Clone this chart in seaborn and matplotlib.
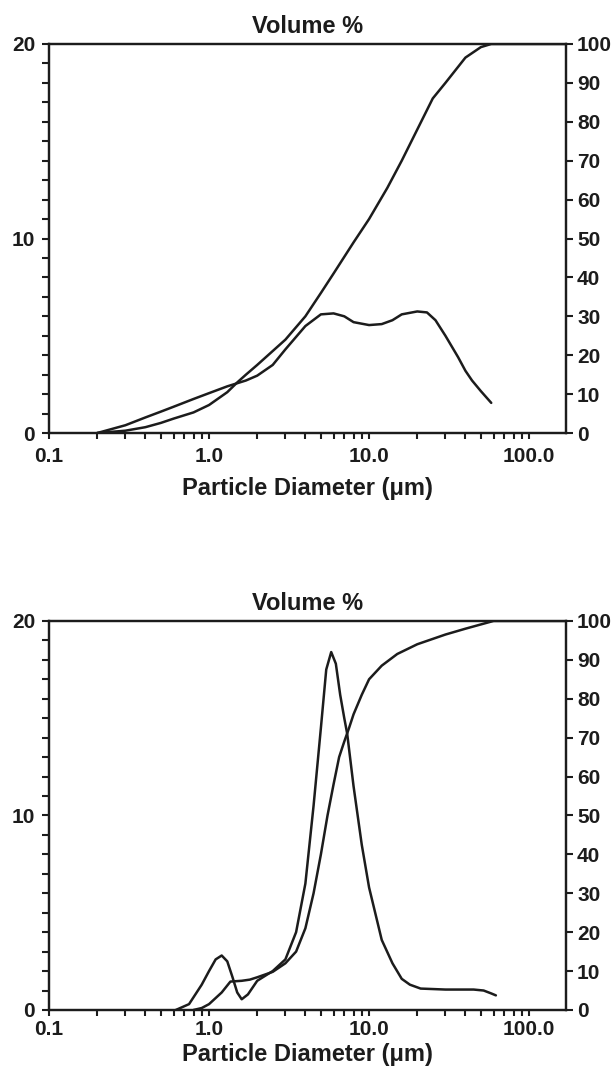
import matplotlib
matplotlib.use('Agg')
import matplotlib.pyplot as plt
from matplotlib.ticker import FixedLocator, FixedFormatter, LogLocator, NullFormatter, MultipleLocator
import seaborn as sns

# top sample: frequency (left axis, vol %) and cumulative (right axis, %)
top_freq_d = [0.2, 0.3, 0.4, 0.5, 0.6, 0.8, 1.0, 1.3, 1.7, 2.0, 2.5, 3.0, 4.0, 5.0,
              6.0, 7.0, 8.0, 10, 12, 14, 16, 20, 23, 26, 30, 36, 40, 44, 50, 58]
top_freq_v = [0.0, 0.4, 0.8, 1.1, 1.35, 1.75, 2.05, 2.4, 2.7, 2.95, 3.5, 4.3, 5.5, 6.1,
              6.15, 6.0, 5.7, 5.55, 5.6, 5.8, 6.1, 6.25, 6.2, 5.8, 5.0, 3.9, 3.2, 2.7,
              2.15, 1.55]
top_cum_d = [0.2, 0.3, 0.4, 0.5, 0.6, 0.8, 1.0, 1.3, 1.5, 1.7, 2.0, 3.0, 4.0, 5.0,
             6.0, 8.0, 10, 13, 16, 20, 25, 30, 40, 50, 58, 170]
top_cum_v = [0.0, 0.6, 1.5, 2.6, 3.7, 5.3, 7.2, 10.5, 13.0, 15.0, 17.5, 24.0, 30.0, 36.0,
             41.0, 49.0, 55.0, 63.0, 70.0, 78.0, 86.0, 90.0, 96.5, 99.2, 100.0, 100.0]

# bottom sample
bot_freq_d = [0.62, 0.75, 0.9, 1.0, 1.1, 1.2, 1.3, 1.4, 1.5, 1.6, 1.75, 2.0, 2.5, 3.0,
              3.5, 4.0, 4.5, 5.0, 5.4, 5.8, 6.2, 6.6, 7.0, 7.3, 8.0, 9.0, 10, 12, 14,
              16, 18, 21, 30, 45, 52, 58, 62]
bot_freq_v = [0.0, 0.3, 1.3, 2.0, 2.6, 2.8, 2.5, 1.7, 0.9, 0.55, 0.8, 1.5, 2.0, 2.6,
              4.0, 6.5, 10.5, 14.5, 17.5, 18.4, 17.8, 16.2, 15.0, 14.2, 11.5, 8.5, 6.3,
              3.6, 2.4, 1.6, 1.3, 1.1, 1.05, 1.05, 1.0, 0.85, 0.75]
bot_cum_d = [0.8, 0.9, 1.0, 1.2, 1.36, 1.6, 1.8, 2.0, 2.5, 3.0, 3.5, 4.0, 4.5, 5.0,
             5.5, 6.0, 6.5, 7.0, 7.5, 8.0, 9.0, 10, 12, 15, 20, 30, 40, 60, 170]
bot_cum_v = [0.0, 0.5, 1.5, 4.5, 7.3, 7.5, 7.8, 8.4, 9.8, 12.0, 15.0, 21.0, 30.0, 40.0,
             50.0, 58.0, 65.0, 69.0, 72.5, 76.0, 81.0, 85.0, 88.5, 91.5, 94.0, 96.5,
             98.0, 100.0, 100.0]

x_ticks = [0.1, 1, 10, 100]
x_labels = ['0.1', '1.0', '10.0', '100.0']

sns.set_style('ticks')
plt.rcParams['font.family'] = ['Liberation Sans', 'DejaVu Sans']
plt.rcParams['font.weight'] = 'bold'
ink = '#1c1c1c'

fig = plt.figure(figsize=(6.14, 10.70), dpi=100)


def panel(rect, fd, fv, cd, cv, xpad, lpad):
    ax = fig.add_axes(rect)
    ax.set_xscale('log')
    ax2 = ax.twinx()
    sns.lineplot(x=fd, y=fv, ax=ax, color=ink, lw=1.8)
    sns.lineplot(x=cd, y=cv, ax=ax2, color=ink, lw=1.8)
    ax.set_xlim(0.1, 170)
    ax.set_ylim(0, 20)
    ax2.set_ylim(0, 100)
    ax.xaxis.set_major_locator(FixedLocator(x_ticks))
    ax.xaxis.set_major_formatter(FixedFormatter(x_labels))
    ax.xaxis.set_minor_locator(LogLocator(base=10, subs=range(2, 10)))
    ax.xaxis.set_minor_formatter(NullFormatter())
    ax.yaxis.set_major_locator(FixedLocator([0, 10, 20]))
    ax.yaxis.set_minor_locator(MultipleLocator(1))
    ax2.yaxis.set_major_locator(MultipleLocator(10))
    ax.tick_params(axis='x', which='both', length=4, width=1.5, color=ink,
                   labelsize=15, pad=xpad, labelcolor=ink)
    ax.tick_params(axis='y', which='both', length=5, width=1.5, color=ink,
                   labelsize=15, pad=5, labelcolor=ink)
    ax2.tick_params(axis='y', which='both', length=5, width=1.5, color=ink,
                    labelsize=15, pad=3, labelcolor=ink)
    for a in (ax, ax2):
        for s in a.spines.values():
            s.set_visible(True)
            s.set_linewidth(1.6)
            s.set_color(ink)
        a.set_ylabel('')
    ax.set_title('Volume %', fontsize=17, fontweight='bold', color=ink, pad=8)
    ax.set_xlabel('Particle Diameter (μm)', fontsize=17, fontweight='bold',
                  color=ink, labelpad=lpad)
    return ax


panel([0.0798, 0.5953, 0.842, 0.3636], top_freq_d, top_freq_v, top_cum_d, top_cum_v, 6, 8)
panel([0.0798, 0.0561, 0.842, 0.3636], bot_freq_d, bot_freq_v, bot_cum_d, bot_cum_v, 3, 3)

fig.savefig('out.png', dpi=100, facecolor='white')
